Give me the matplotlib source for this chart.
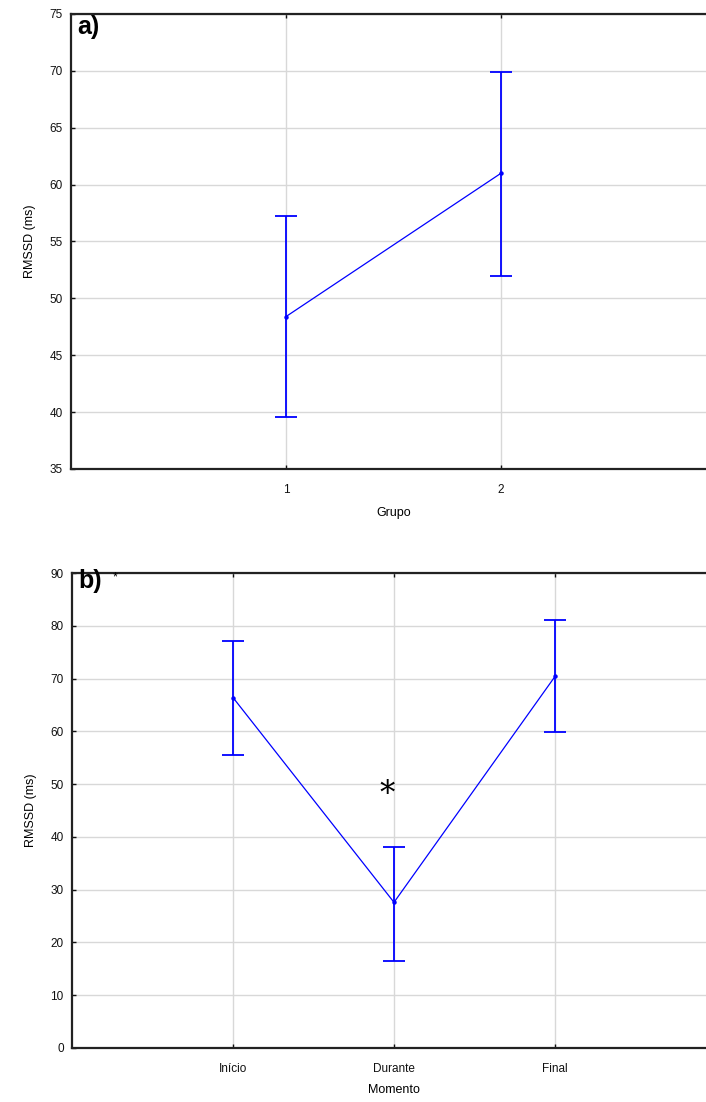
import matplotlib
matplotlib.use("Agg")
import matplotlib.pyplot as plt

plt.rcParams['font.family'] = ['Liberation Sans', 'DejaVu Sans']

# Panel a data
grupo_labels = ["1", "2"]
grupo_mean = [48.4, 61.0]
grupo_upper = [57.2, 69.9]
grupo_lower = [39.6, 52.0]

# Panel b data
momento_labels = ["Início", "Durante", "Final"]
momento_mean = [66.4, 27.6, 70.4]
momento_upper = [77.2, 38.0, 81.1]
momento_lower = [55.5, 16.4, 59.8]

blue = "#0000ff"
fig = plt.figure(figsize=(7.06, 11.02), dpi=100)

def style(ax):
    for s in ax.spines.values():
        s.set_linewidth(1.6)
        s.set_color("#222222")
    ax.grid(True, color="#d8d8d8", linewidth=1.0)
    ax.set_axisbelow(True)
    ax.tick_params(direction="in", length=3, width=1, labelsize=8.5,
                   top=True, right=False, colors="#111111")
    ax.tick_params(axis="y", pad=6)
    ax.tick_params(axis="x", pad=11)

def draw(ax, labels, mean, upper, lower):
    x = list(range(1, len(labels) + 1))
    yerr = [[m - l for m, l in zip(mean, lower)], [u - m for m, u in zip(mean, upper)]]
    ax.errorbar(x, mean, yerr=yerr, fmt="none", ecolor=blue, elinewidth=1.3,
                capsize=8, capthick=1.3, zorder=3)
    ax.plot(x, mean, color=blue, linewidth=0.9, marker="o", markersize=2.2, zorder=4)
    ax.set_xticks(x)
    ax.set_xticklabels(labels)
    ax.set_xlim(0, len(labels) + 1)

ax1 = fig.add_axes([71/706, 1 - 469/1102, 645/706, 455/1102])
style(ax1)
draw(ax1, grupo_labels, grupo_mean, grupo_upper, grupo_lower)
ax1.set_xlim(0, 3)
ax1.set_ylim(35, 75)
ax1.set_yticks(range(35, 80, 5))
ax1.set_xlabel("Grupo", fontsize=9, labelpad=8)
ax1.set_ylabel("RMSSD (ms)", fontsize=9, labelpad=10)
ax1.text(0.010, 0.998, "a)", transform=ax1.transAxes, fontsize=18, fontweight="bold",
         va="top", ha="left")

ax2 = fig.add_axes([72/706, 1 - 1048/1102, 644/706, 475/1102])
style(ax2)
draw(ax2, momento_labels, momento_mean, momento_upper, momento_lower)
ax2.set_ylim(0, 90)
ax2.set_yticks(range(0, 100, 10))
ax2.set_xlabel("Momento", fontsize=9, labelpad=6)
ax2.set_ylabel("RMSSD (ms)", fontsize=9, labelpad=10)
ax2.text(0.010, 1.008, "b)", transform=ax2.transAxes, fontsize=18, fontweight="bold",
         va="top", ha="left")
ax2.text(0.063, 1.003, "*", transform=ax2.transAxes, fontsize=9, va="top", ha="left")
ax2.text(1.96, 48.0, "*", fontsize=22, ha="center", va="center", family="DejaVu Serif")

fig.savefig("out.png", dpi=100)
